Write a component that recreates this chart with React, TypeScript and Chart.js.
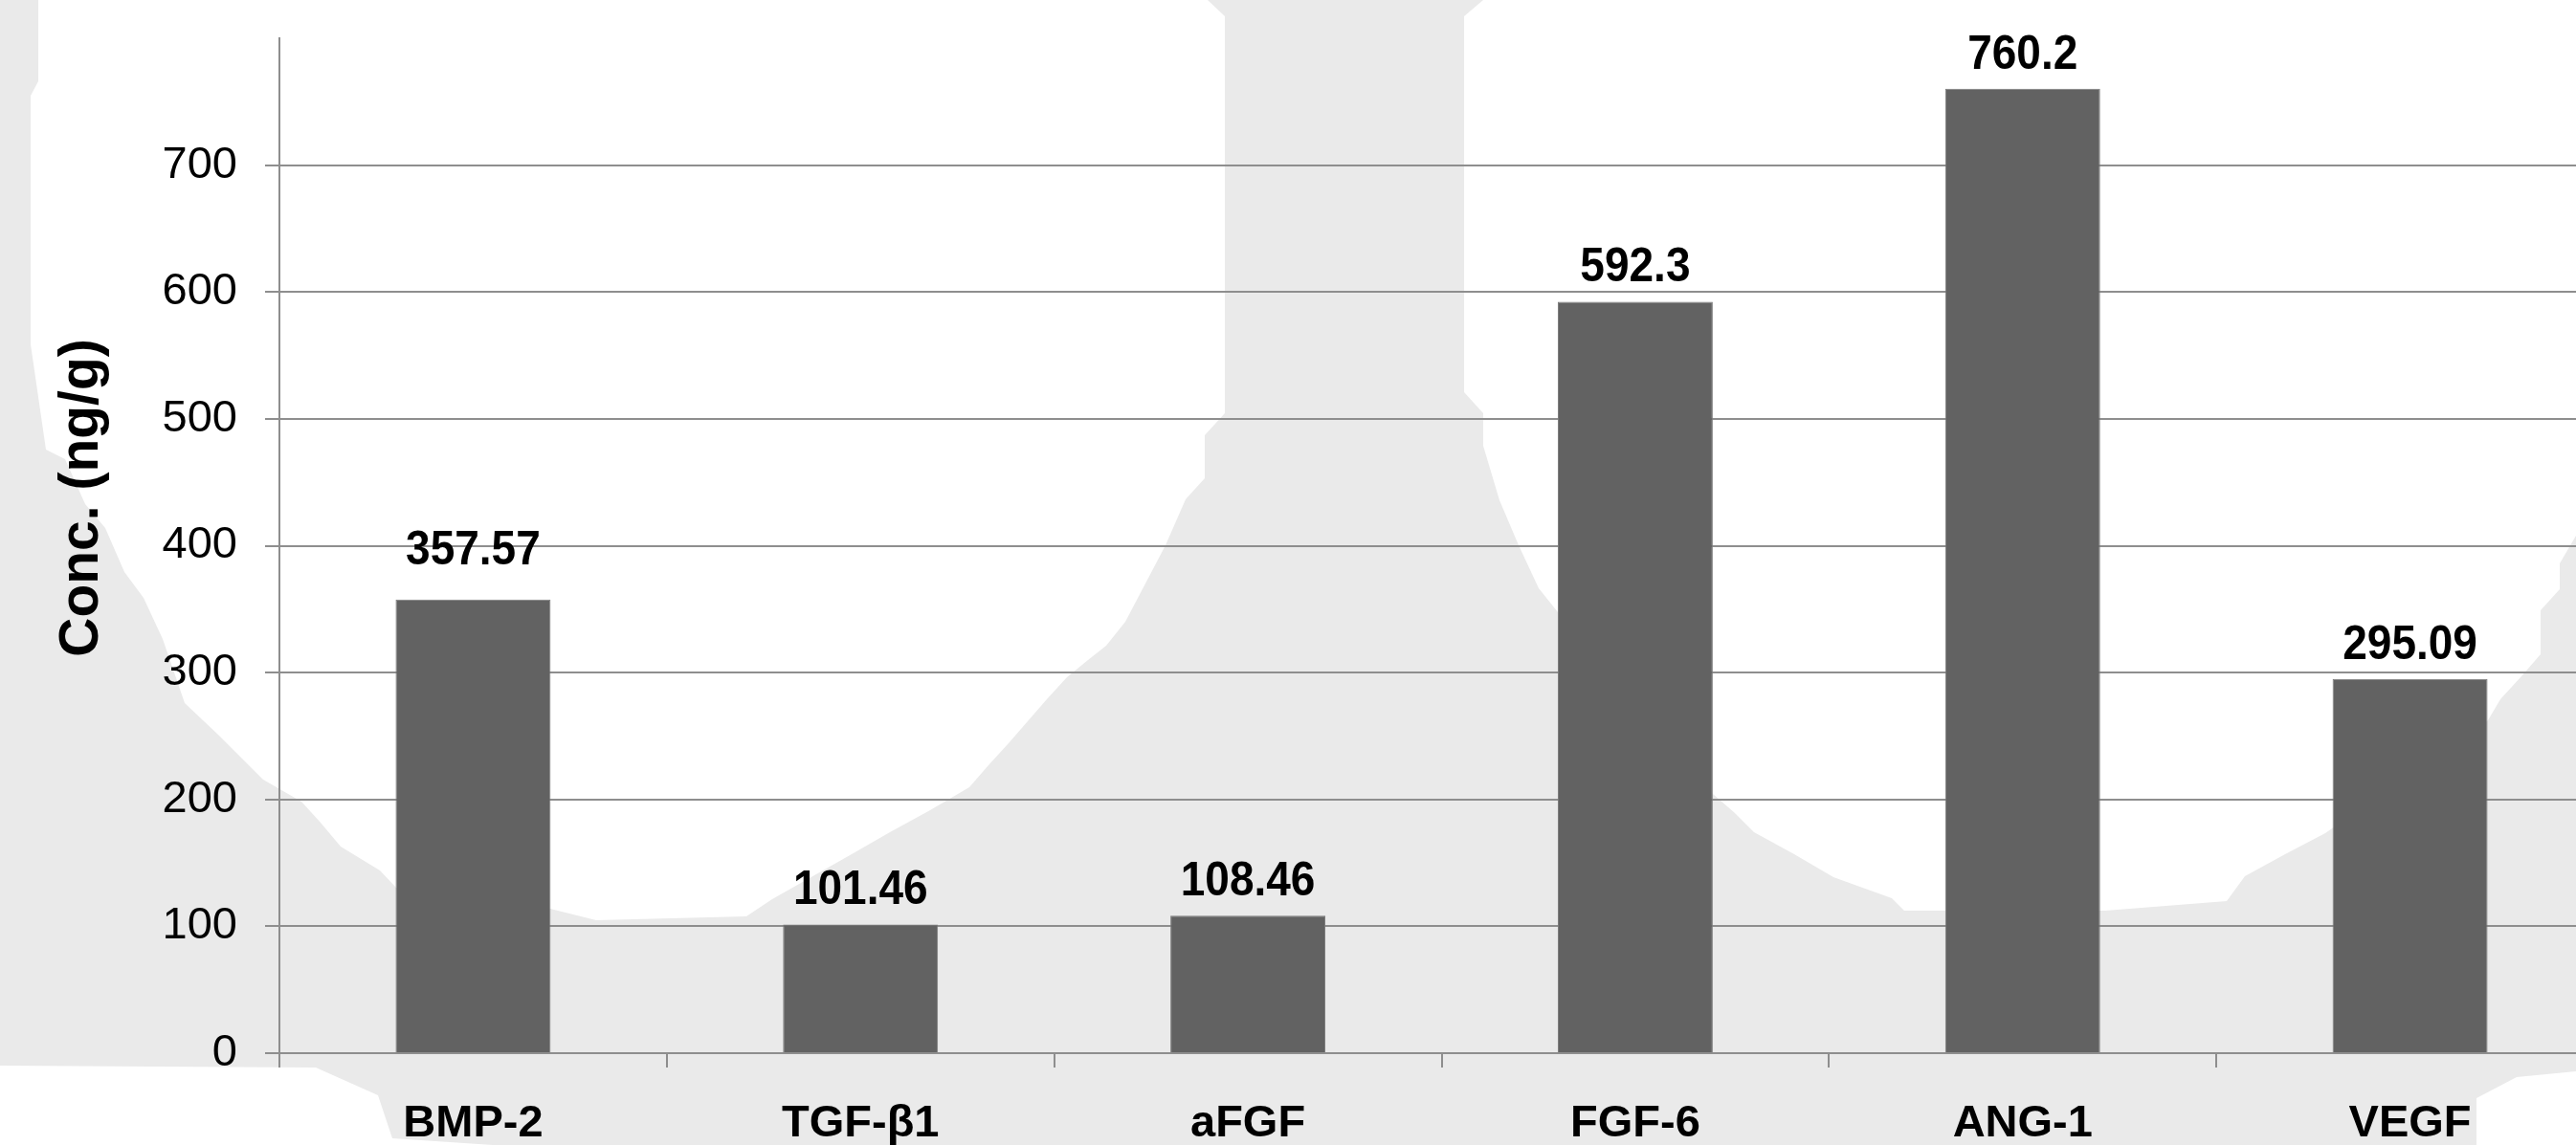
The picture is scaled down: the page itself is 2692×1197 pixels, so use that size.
import React, { useEffect, useRef } from "react";
import { Chart, registerables } from "chart.js";

Chart.register(...registerables);

const categories = ["BMP-2", "TGF-β1", "aFGF", "FGF-6", "ANG-1", "VEGF"];
const concValues = [357.57, 101.46, 108.46, 592.3, 760.2, 295.09];
const valueLabels = ["357.57", "101.46", "108.46", "592.3", "760.2", "295.09"];
const yTitle = "Conc. (ng/g)";
const yMin = 0;
const yMax = 800;
const yStep = 100;

const FONT = "'Liberation Sans', Arial, Helvetica, sans-serif";
const BAR = "#626262";
const GRID = "#8e8e8e";
const BACK_GREY = "#eaeaea";
// extra lift (px) of a value label above its bar, as placed in the source
const LABEL_LIFT: Record<string, number> = { "BMP-2": 16 };

// decorative background (light grey pattern behind the plot in the source image)
const whiteShapes: number[][][] = [
  [
    [40, 0], [1262, 0], [1280, 17], [1280, 432], [1259, 455], [1259, 500],
    [1239, 522], [1218, 570], [1197, 610], [1176, 650], [1156, 675],
    [1137, 690], [1115, 708], [1094, 731], [1074, 754], [1054, 777],
    [1033, 800], [1013, 823], [972, 847], [930, 870], [890, 893],
    [807, 940], [780, 958], [623, 962], [575, 950], [414, 928],
    [397, 910], [356, 885], [335, 860], [315, 838], [275, 815],
    [230, 770], [193, 735], [170, 668], [150, 625], [130, 598],
    [110, 552], [89, 527], [68, 480], [48, 470], [32, 360], [32, 100],
    [40, 85],
  ],
  [
    [1550, 0], [2692, 0], [2692, 560], [2675, 589], [2675, 616],
    [2655, 638], [2655, 684], [2635, 707], [2613, 731], [2600, 753],
    [2430, 871], [2388, 893], [2346, 916], [2327, 942], [2200, 952],
    [1990, 952], [1977, 939], [1916, 917], [1875, 893], [1833, 870],
    [1813, 850], [1790, 830], [1628, 640], [1608, 615], [1587, 570],
    [1567, 523], [1550, 466], [1550, 432], [1530, 410], [1530, 17],
  ],
  [
    [0, 1114], [330, 1116], [395, 1145], [410, 1190], [515, 1197], [0, 1197],
  ],
  [
    [2692, 1120], [2630, 1126], [2588, 1148], [2588, 1197], [2692, 1197],
  ],
];

const backgroundPlugin = {
  id: "bgPattern",
  beforeDraw(chart: any) {
    const ctx = chart.ctx;
    ctx.save();
    ctx.fillStyle = BACK_GREY;
    ctx.fillRect(0, 0, chart.width, chart.height);
    ctx.fillStyle = "#ffffff";
    whiteShapes.forEach((pts) => {
      ctx.beginPath();
      pts.forEach(([x, y], i) => (i === 0 ? ctx.moveTo(x, y) : ctx.lineTo(x, y)));
      ctx.closePath();
      ctx.fill();
    });
    ctx.restore();
  },
};

const valueLabelPlugin = {
  id: "valueLabels",
  afterDatasetsDraw(chart: any) {
    const ctx = chart.ctx;
    const meta = chart.getDatasetMeta(0);
    meta.data.forEach((bar: any, i: number) => {
      const lift = 21 + (LABEL_LIFT[categories[i]] || 0);
      ctx.save();
      ctx.translate(bar.x, bar.y - lift);
      ctx.scale(1, 1.1);
      ctx.fillStyle = "#000";
      ctx.font = `bold 46px ${FONT}`;
      ctx.textAlign = "center";
      ctx.textBaseline = "alphabetic";
      ctx.fillText(valueLabels[i], 0, 0);
      ctx.restore();
    });
  },
};

const yTitlePlugin = {
  id: "yTitleCustom",
  afterDraw(chart: any) {
    const ctx = chart.ctx;
    const area = chart.chartArea;
    ctx.save();
    ctx.translate(102, (area.top + area.bottom) / 2 - 50);
    ctx.rotate(-Math.PI / 2);
    ctx.fillStyle = "#000";
    ctx.font = `bold 57px ${FONT}`;
    ctx.textAlign = "center";
    ctx.textBaseline = "alphabetic";
    ctx.fillText(yTitle, 0, 0);
    ctx.restore();
  },
};

export default function App() {
  const ref = useRef<HTMLCanvasElement | null>(null);

  useEffect(() => {
    if (!ref.current) return;
    const chart = new Chart(ref.current, {
      type: "bar",
      data: {
        labels: categories,
        datasets: [
          {
            data: concValues,
            backgroundColor: BAR,
            borderColor: "#7a7a7a",
            borderWidth: 1,
            barPercentage: 0.4,
            categoryPercentage: 1,
          },
        ],
      },
      options: {
        responsive: false,
        animation: false,
        devicePixelRatio: 1,
        layout: { padding: { left: 50, top: 40, right: 1, bottom: 0 } },
        plugins: {
          legend: { display: false },
          tooltip: { enabled: false },
          title: { display: false },
        },
        scales: {
          x: {
            grid: {
              offset: true,
              drawOnChartArea: false,
              drawTicks: true,
              tickLength: 15,
              color: GRID,
              lineWidth: 2,
            },
            border: { display: true, color: GRID, width: 2 },
            ticks: {
              color: "#000",
              padding: 31,
              font: { family: FONT, size: 47, weight: "bold" },
              maxRotation: 0,
              autoSkip: false,
            },
            afterFit: (s: any) => {
              s.height = 96;
              s.paddingLeft = 0;
              s.paddingRight = 0;
            },
          },
          y: {
            min: yMin,
            max: yMax,
            grid: { color: GRID, lineWidth: 2, tickLength: 15 },
            border: { display: true, color: GRID, width: 2 },
            ticks: {
              stepSize: yStep,
              color: "#000",
              padding: 29,
              font: { family: FONT, size: 47 },
              callback: (v: any) => (v >= yMax ? null : String(v)),
            },
            afterFit: (s: any) => {
              s.width = 242;
              s.paddingTop = 0;
              s.paddingBottom = 0;
            },
          },
        },
      },
      plugins: [backgroundPlugin, valueLabelPlugin, yTitlePlugin],
    });
    return () => chart.destroy();
  }, []);

  return (
    <div
      style={{
        position: "fixed",
        left: 0,
        top: 0,
        width: "100vw",
        height: "100vh",
        overflow: "hidden",
        background: "#fff",
      }}
    >
      <canvas
        ref={ref}
        width={2722}
        height={1197}
        style={{ width: 2722, height: 1197, display: "block" }}
      />
    </div>
  );
}
